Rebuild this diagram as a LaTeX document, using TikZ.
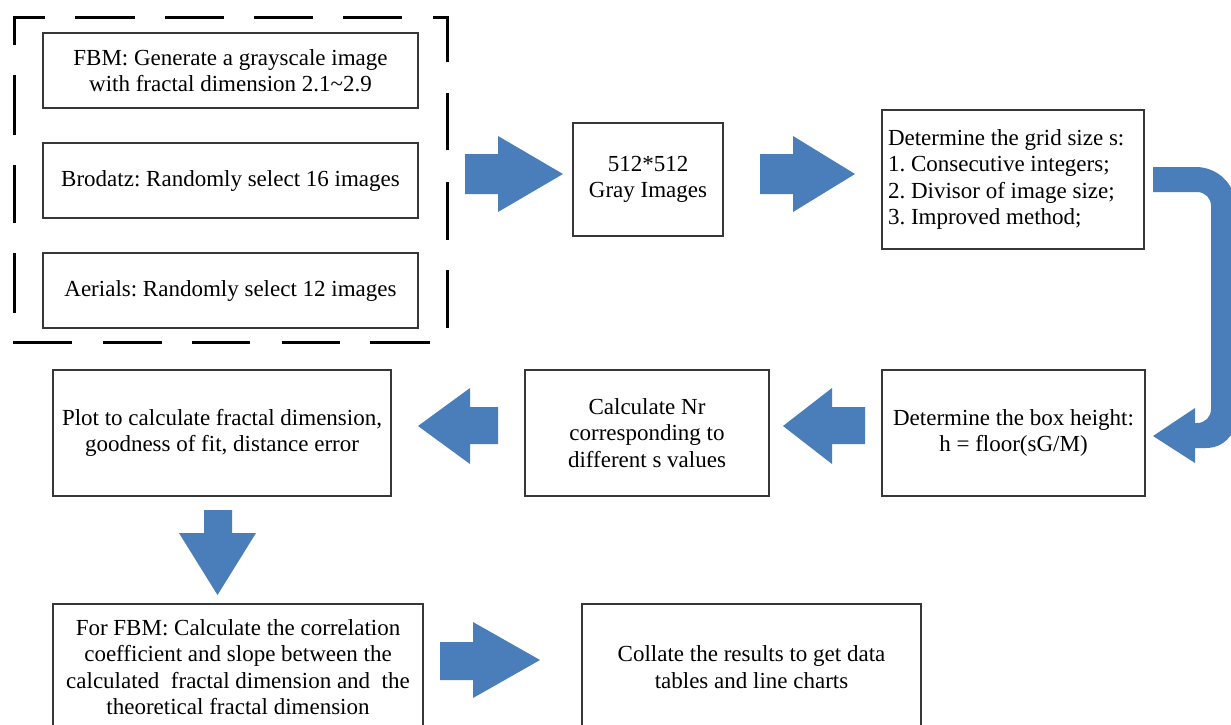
\documentclass[tikz,border=0pt]{standalone}
\usepackage{fontspec}
\setmainfont{Liberation Serif}
\definecolor{arrowblue}{RGB}{74,126,187}
\definecolor{boxline}{RGB}{55,55,55}
\begin{document}
\begin{tikzpicture}[x=1pt,y=-1pt,
  txt/.style={font=\fontsize{23}{26.5}\selectfont\frenchspacing, inner sep=0pt, align=center},
  box/.style={txt, draw=boxline, line width=1.1pt},
  blockarrow/.style={fill=arrowblue},
  dashline/.style={draw=black, line width=3pt, line join=miter}]
\useasboundingbox (0,0) rectangle (1231,724);
\fill[white] (0,0) rectangle (1231,724);

% dashed group frame
\draw[dashline]
  (14,45) -- (14,17) -- (45,17)
  (75,17) -- (135,17) (165,17) -- (224,17) (254,17) -- (313,17) (343,17) -- (402,17)
  (433,17) -- (447,17) -- (447,62)
  (447,93) -- (447,150) (447,182) -- (447,240) (447,270) -- (447,328)
  (430,342) -- (370,342) (340,342) -- (282,342) (250,342) -- (192,342)
  (162,342) -- (103,342) (72,342) -- (12.5,342)
  (14,313) -- (14,253) (14,223) -- (14,165) (14,135) -- (14,75);

% first row
\node[box, minimum width=375pt, minimum height=75pt] (fbm) at (230.5,70.5)
  {FBM: Generate a grayscale image\\with fractal dimension 2.1\textasciitilde2.9};
\node[box, minimum width=375pt, minimum height=75pt] (brodatz) at (230.5,180.5)
  {Brodatz: Randomly select 16 images};
\node[box, minimum width=375pt, minimum height=75pt] (aerials) at (230.5,290.5)
  {Aerials: Randomly select 12 images};
\node[box, minimum width=150pt, minimum height=113pt] (gray) at (648,179.5)
  {512*512\\Gray Images};
\node[box, text width=250pt, align=flush left, inner xsep=6pt, minimum height=139pt] (grid) at (1013,179.5)
  {Determine the grid size s:\\1. Consecutive integers;\\2. Divisor of image size;\\3. Improved method;};

% second row
\node[box, minimum width=263pt, minimum height=126pt] (height) at (1013.5,433)
  {Determine the box height:\\h = floor(sG/M)};
\node[box, minimum width=244pt, minimum height=126pt] (nr) at (647,433)
  {Calculate Nr\\corresponding to\\different s values};
\node[box, minimum width=338pt, minimum height=126pt] (plot) at (222,433)
  {Plot to calculate fractal dimension,\\goodness of fit, distance error};

% third row
\node[box, minimum width=370pt, minimum height=126pt] (corr) at (238,667)
  {For FBM: Calculate the correlation\\coefficient and slope between the\\calculated~ fractal dimension and~ the\\theoretical fractal dimension};
\node[box, minimum width=339pt, minimum height=126pt] (collate) at (751.5,667)
  {Collate the results to get data\\tables and line charts};

% block arrows
\fill[blockarrow] (465,154) -- (498,154) -- (498,136) -- (563,174) -- (498,212) -- (498,194) -- (465,194) -- cycle;
\fill[blockarrow] (760,154) -- (793,154) -- (793,136) -- (855,174) -- (793,212) -- (793,194) -- (760,194) -- cycle;
\fill[blockarrow] (498,407) -- (470,407) -- (470,388) -- (418,426) -- (470,464) -- (470,444) -- (498,444) -- cycle;
\fill[blockarrow] (865,407) -- (832,407) -- (832,388) -- (783,426) -- (832,464) -- (832,444) -- (865,444) -- cycle;
\fill[blockarrow] (204,510) -- (232,510) -- (232,533) -- (256,533) -- (217.5,595) -- (179,533) -- (204,533) -- cycle;
\fill[blockarrow] (440,642) -- (473,642) -- (473,622) -- (540,660) -- (473,698) -- (473,680) -- (440,680) -- cycle;

% curved arrow from grid box down to box-height box
\fill[blockarrow] (1153,167) -- (1196,167)
  .. controls (1218,167) and (1236,185) .. (1236,207)
  -- (1236,418)
  .. controls (1236,435) and (1223,448) .. (1206,448)
  -- (1195,448) -- (1195,463) -- (1153,436) -- (1195,408) -- (1195,423) -- (1197,423)
  .. controls (1205,423) and (1211,417) .. (1211,409)
  -- (1211,206)
  .. controls (1211,198) and (1205,192) .. (1197,192)
  -- (1153,192) -- cycle;
\end{tikzpicture}
\end{document}
